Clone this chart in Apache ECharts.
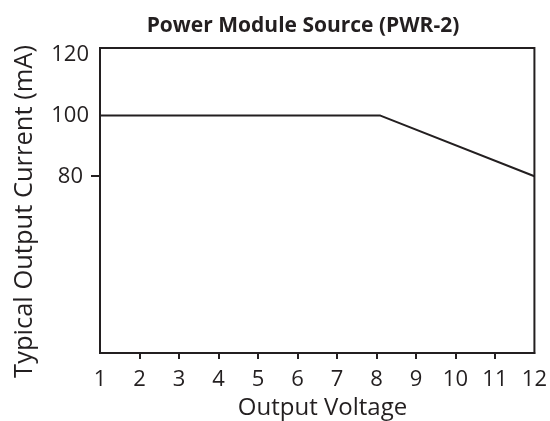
<!DOCTYPE html>
<html><head><meta charset="utf-8">
<script src="https://cdn.jsdelivr.net/npm/echarts@6/dist/echarts.min.js"></script>
<style>html,body{margin:0;padding:0;background:#fff}#c{width:550px;height:421px}</style>
</head><body><div id="c"></div>
<script>
const voltage = [1, 8.1, 12];
const current = [100, 100, 80];
const xTickLabels = [1,2,3,4,5,6,7,8,9,10,11,12];
const xTickMarks = [2,3,4,5,6,7,8,9,10,11];
const yTickLabels = [80, 100, 120];
const yTickMarks = [80];
const titleText = 'Power Module Source (PWR-2)';
const xName = 'Output Voltage';
const yName = 'Typical Output Current (mA)';

const ink = '#231f20';
const font = 'Open Sans';
const chart = echarts.init(document.getElementById('c'), null, {renderer:'canvas'});
chart.setOption({
  animation:false,
  grid:{left:100, right:13, top:48, bottom:68, show:true, borderColor:ink, borderWidth:2},
  graphic:[
    {type:'text', x:303, y:26, style:{text:titleText, textAlign:'center', textVerticalAlign:'middle', font:'bold 21px "Open Sans"', fill:ink}},
    {type:'text', x:322.5, y:408, style:{text:xName, textAlign:'center', textVerticalAlign:'middle', font:'24px "Open Sans"', fill:ink}},
    {type:'text', rotation:Math.PI/2, x:25, y:211.5, style:{text:yName, textAlign:'center', textVerticalAlign:'middle', font:'25.5px "Open Sans"', fill:ink}}
  ],
  xAxis:{type:'value', min:1, max:12, interval:1,
    axisLine:{show:true, lineStyle:{color:ink, width:2}},
    axisTick:{show:true, length:6, lineStyle:{color:ink, width:2}, customValues:xTickMarks},
    axisLabel:{color:ink, fontFamily:font, fontSize:22, margin:16, customValues:xTickLabels},
    splitLine:{show:false}},
  yAxis:{type:'value', min:21.7, max:122.3,
    axisLine:{show:true, lineStyle:{color:ink, width:2}},
    axisTick:{show:true, length:9, lineStyle:{color:ink, width:2}, customValues:yTickMarks},
    axisLabel:{color:ink, fontFamily:font, fontSize:22, margin:11, customValues:yTickLabels,
      formatter:function(v){return v===80?'{s|'+v+'}':String(v);},
      rich:{s:{color:ink, fontFamily:font, fontSize:22, padding:[0,6,0,0]}}},
    splitLine:{show:false}},
  series:[{type:'line', data:voltage.map((v,i)=>[v,current[i]]), showSymbol:false, symbol:'none',
    lineStyle:{color:ink, width:2}, clip:false}]
});
</script></body></html>
